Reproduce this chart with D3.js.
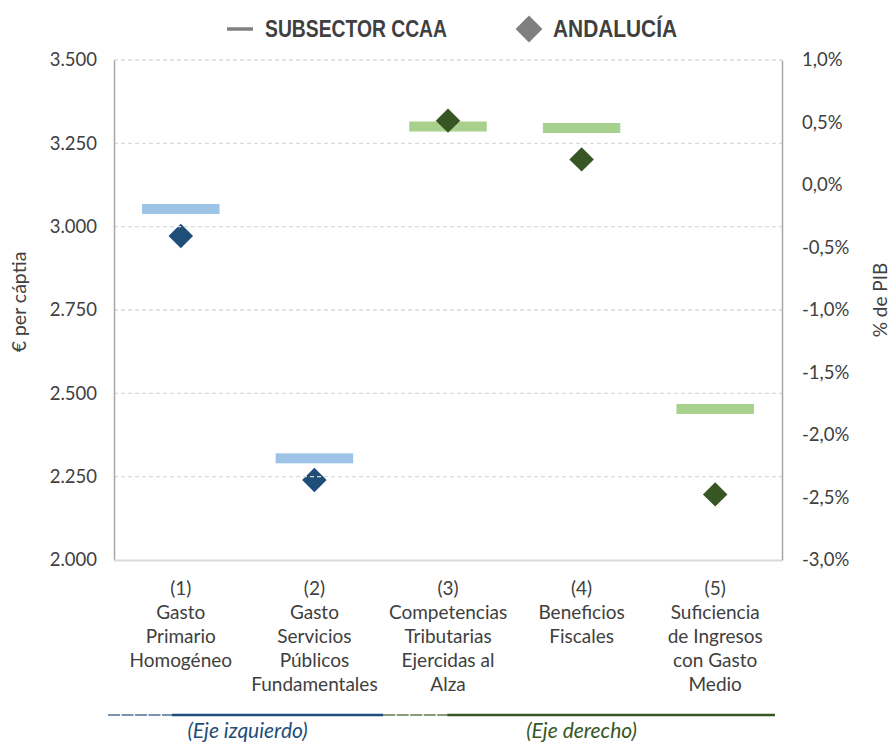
<!DOCTYPE html>
<html lang="es">
<head>
<meta charset="UTF-8">
<title>Subsector CCAA vs Andalucía</title>
<script src="https://cdn.jsdelivr.net/npm/d3@7/dist/d3.min.js"></script>
<style>
  body { margin: 0; background: #fff; }
  text { font-family: Lato, "Open Sans", sans-serif; fill: #404040; }
</style>
</head>
<body>
<svg id="chart" width="892" height="743"></svg>
<script>
// categorias (lineas de la etiqueta)
const categorias = [
  ["(1)", "Gasto", "Primario", "Homogéneo"],
  ["(2)", "Gasto", "Servicios", "Públicos", "Fundamentales"],
  ["(3)", "Competencias", "Tributarias", "Ejercidas al", "Alza"],
  ["(4)", "Beneficios", "Fiscales"],
  ["(5)", "Suficiencia", "de Ingresos", "con Gasto", "Medio"]
];
// eje izquierdo: € per cápita (cat 1-2), eje derecho: % de PIB (cat 3-5)
const eje = ["izq", "izq", "der", "der", "der"];
const subsectorCCAA = [3053, 2305, 0.468, 0.456, -1.792];
const andalucia     = [2972, 2240, 0.515, 0.205, -2.475];
const ticksIzq = [2000, 2250, 2500, 2750, 3000, 3250, 3500];
const ticksDer = [-3, -2.5, -2, -1.5, -1, -0.5, 0, 0.5, 1];

const svg = d3.select("#chart");
const mLeft = 114, mRight = 782, mTop = 60, mBottom = 560;

const loc = d3.formatLocale({decimal: ",", thousands: ".", grouping: [3], currency: ["", "€"], minus: "-"});
const fmtIzq = loc.format(",.0f");
const fmtDer = d => loc.format(".1f")(d) + "%";

const x = d3.scaleBand().domain(d3.range(categorias.length)).range([mLeft, mRight]);
const yIzq = d3.scaleLinear().domain([2000, 3500]).range([mBottom, mTop]);
const yDer = d3.scaleLinear().domain([-3, 1]).range([mBottom, mTop]);
const yDe = i => eje[i] === "izq" ? yIzq : yDer;

const azulClaro = "#9dc3e6", azul = "#1f4e79";
const verdeClaro = "#a9d18e", verde = "#375623";

// barras horizontales (subsector)
const bw = x.bandwidth() * 0.58;
svg.append("g").selectAll("rect")
  .data(subsectorCCAA)
  .join("rect")
  .attr("x", (d, i) => x(i) + (x.bandwidth() - bw) / 2)
  .attr("y", (d, i) => yDe(i)(d) - 5)
  .attr("width", bw)
  .attr("height", 10)
  .attr("fill", (d, i) => eje[i] === "izq" ? azulClaro : verdeClaro);

const rombo = d3.symbol(d3.symbolSquare, 300);
function rombos(filtro) {
  svg.append("g").selectAll("path")
    .data(andalucia.map((v, i) => ({v, i})).filter(d => eje[d.i] === filtro))
    .join("path")
    .attr("d", rombo)
    .attr("transform", d => `translate(${x(d.i) + x.bandwidth() / 2},${yDe(d.i)(d.v)}) rotate(45)`)
    .attr("fill", filtro === "izq" ? azul : verde);
}
rombos("izq");

// rejilla
svg.append("g").selectAll("line")
  .data(ticksIzq.slice(1))
  .join("line")
  .attr("x1", mLeft).attr("x2", mRight)
  .attr("y1", d => yIzq(d)).attr("y2", d => yIzq(d))
  .attr("stroke", "#d9d9d9").attr("stroke-width", 1.3)
  .attr("stroke-dasharray", "4,3");

rombos("der");

// ejes
const axIzq = svg.append("g").attr("transform", `translate(${mLeft},0)`)
  .call(d3.axisLeft(yIzq).tickValues(ticksIzq).tickFormat(fmtIzq).tickSize(0).tickPadding(17));
const axDer = svg.append("g").attr("transform", `translate(${mRight},0)`)
  .call(d3.axisRight(yDer).tickValues(ticksDer).tickFormat(fmtDer).tickSize(0).tickPadding(20));
[axIzq, axDer].forEach(a => {
  a.select(".domain").attr("stroke", "#a6a6a6").attr("stroke-width", 1.5);
  a.selectAll("text").style("font-size", "18.5px").attr("fill", "#404040")
    .style("font-family", "Lato, 'Open Sans', sans-serif");
});
svg.append("line")
  .attr("x1", mLeft).attr("x2", mRight).attr("y1", mBottom + 0.5).attr("y2", mBottom + 0.5)
  .attr("stroke", "#d9d9d9").attr("stroke-width", 2);

// titulos de ejes
svg.append("text").attr("transform", "translate(26,302) rotate(-90)")
  .attr("text-anchor", "middle").style("font-size", "19.5px").text("€ per cáptia");
svg.append("text").attr("transform", "translate(887,300) rotate(-90)")
  .attr("text-anchor", "middle").style("font-size", "19px").text("% de PIB");

// etiquetas de categorias
const etiq = svg.append("g").selectAll("text")
  .data(categorias)
  .join("text")
  .attr("text-anchor", "middle")
  .style("font-size", "19px");
etiq.selectAll("tspan")
  .data((d, i) => d.map(t => ({t, i})))
  .join("tspan")
  .attr("x", d => x(d.i) + x.bandwidth() / 2)
  .attr("y", (d, j) => 595 + j * 24)
  .text(d => d.t);

// lineas de eje inferior
function tramo(x0, x1, color) {
  svg.append("line").attr("x1", x0).attr("x2", x0 + 64).attr("y1", 715).attr("y2", 715)
    .attr("stroke", color).attr("stroke-opacity", 0.8).attr("stroke-width", 1.5)
    .attr("stroke-dasharray", "12,1.5");
  svg.append("line").attr("x1", x0 + 64).attr("x2", x1).attr("y1", 715).attr("y2", 715)
    .attr("stroke", color).attr("stroke-width", 2.5);
}
const corte = x(2) + 2;
tramo(mLeft - 6, corte, azul);
tramo(corte, mRight - 7, verde);

svg.append("text").attr("x", x(1)).attr("y", 738).attr("text-anchor", "middle")
  .style("font-size", "21px").style("font-style", "italic").style("fill", azul).text("(Eje izquierdo)");
svg.append("text").attr("x", (x(2) + mRight) / 2).attr("y", 738).attr("text-anchor", "middle")
  .style("font-size", "21px").style("font-style", "italic").style("fill", verde).text("(Eje derecho)");

// leyenda
const ley = svg.append("g");
ley.append("line").attr("x1", 227).attr("x2", 253).attr("y1", 29).attr("y2", 29)
  .attr("stroke", "#808080").attr("stroke-width", 3.5);
ley.append("text").attr("x", 265).attr("y", 37)
  .attr("textLength", 182).attr("lengthAdjust", "spacingAndGlyphs")
  .style("font-family", "'Liberation Sans Narrow', 'Arial Narrow', sans-serif")
  .style("font-weight", "bold").style("font-size", "23px").text("SUBSECTOR CCAA");
ley.append("path").attr("d", d3.symbol(d3.symbolSquare, 360))
  .attr("transform", "translate(529,29) rotate(45)").attr("fill", "#7f7f7f");
ley.append("text").attr("x", 553).attr("y", 37)
  .attr("textLength", 124).attr("lengthAdjust", "spacingAndGlyphs")
  .style("font-family", "'Liberation Sans Narrow', 'Arial Narrow', sans-serif")
  .style("font-weight", "bold").style("font-size", "23px").text("ANDALUCÍA");
</script>
</body>
</html>
